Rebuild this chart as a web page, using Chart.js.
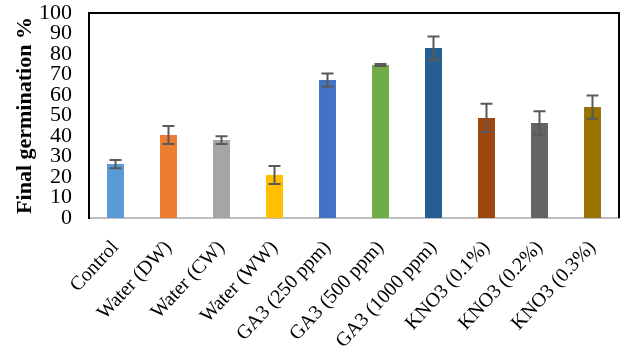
<!DOCTYPE html>
<html>
<head>
<meta charset="utf-8">
<script src="https://cdn.jsdelivr.net/npm/chart.js@4"></script>
<style>
  html, body { margin: 0; padding: 0; background: #fff; }
  #wrap { width: 624px; height: 351px; }
</style>
</head>
<body>
<div id="wrap"><canvas id="chart"></canvas></div>
<script>
const categories = ['Control', 'Water (DW)', 'Water (CW)', 'Water (WW)', 'GA3 (250 ppm)', 'GA3 (500 ppm)', 'GA3 (1000 ppm)', 'KNO3 (0.1%)', 'KNO3 (0.2%)', 'KNO3 (0.3%)'];
const germination = [26.3, 40.5, 38, 21, 67.3, 74.6, 82.9, 48.8, 46.3, 54.1];
const errors = [2, 4.4, 1.9, 4.4, 3.2, 0.5, 5.6, 6.9, 5.8, 5.7];
const barColors = ['#5B9BD5', '#ED7D31', '#A5A5A5', '#FFC000', '#4472C4', '#70AD47', '#255E91', '#9E480E', '#636363', '#997300'];

const serif = "'Times New Roman', 'Liberation Serif', serif";

// error bars and the black frame round the plot
const extras = {
    id: 'extras',
    afterDatasetsDraw(chart) {
        const ctx = chart.ctx;
        const y = chart.scales.y;
        const meta = chart.getDatasetMeta(0);
        ctx.save();
        ctx.strokeStyle = '#595959';
        ctx.lineWidth = 2;
        meta.data.forEach((bar, i) => {
            const hi = y.getPixelForValue(germination[i] + errors[i]);
            const lo = y.getPixelForValue(germination[i] - errors[i]);
            ctx.beginPath();
            ctx.moveTo(bar.x, hi); ctx.lineTo(bar.x, lo);
            ctx.moveTo(bar.x - 6, hi); ctx.lineTo(bar.x + 6, hi);
            ctx.moveTo(bar.x - 6, lo); ctx.lineTo(bar.x + 6, lo);
            ctx.stroke();
        });
        const a = chart.chartArea;
        ctx.strokeStyle = '#000';
        ctx.lineWidth = 2;
        ctx.beginPath();
        ctx.moveTo(a.left, a.bottom); ctx.lineTo(a.left, a.top);
        ctx.lineTo(a.right, a.top); ctx.lineTo(a.right, a.bottom);
        ctx.stroke();
        ctx.restore();
    }
};

new Chart(document.getElementById('chart'), {
    type: 'bar',
    data: {
        labels: categories,
        datasets: [{
            data: germination,
            backgroundColor: barColors,
            barPercentage: 0.64,
            categoryPercentage: 0.5
        }]
    },
    options: {
        responsive: true,
        maintainAspectRatio: false,
        animation: false,
        layout: { padding: { top: 13, right: 5, left: 0, bottom: 0 } },
        plugins: { legend: { display: false }, tooltip: { enabled: false } },
        scales: {
            x: {
                grid: { display: false, drawTicks: false },
                border: { color: '#BFBFBF', width: 2 },
                afterFit(scale) {
                    scale.height = 133;
                    scale.paddingLeft = 0;
                    scale.paddingRight = 0;
                },
                ticks: {
                    minRotation: 47, maxRotation: 47,
                    autoSkip: false,
                    color: '#000',
                    padding: 18,
                    font: { family: serif, size: 20 }
                }
            },
            y: {
                min: 0, max: 100,
                grid: { display: false, drawTicks: false },
                border: { color: '#000', width: 2 },
                afterFit(scale) {
                    scale.width = 89;
                    scale.paddingTop = 0;
                    scale.paddingBottom = 0;
                },
                ticks: {
                    stepSize: 10,
                    autoSkip: false,
                    color: '#000',
                    padding: 17,
                    font: { family: serif, size: 22 }
                },
                title: {
                    display: true,
                    text: 'Final germination %',
                    color: '#000',
                    padding: { top: 12, bottom: 0 },
                    font: { family: serif, size: 22, weight: 'bold' }
                }
            }
        }
    },
    plugins: [extras]
});
</script>
</body>
</html>
